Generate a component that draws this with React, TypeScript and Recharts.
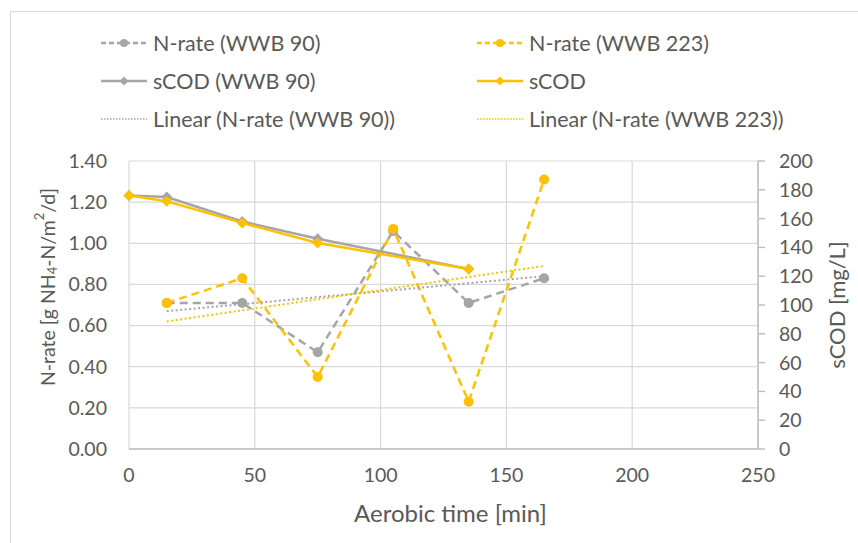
import { LineChart, Line, XAxis, YAxis, CartesianGrid, Label } from 'recharts'

// ============================================
// Colours & fonts
// ============================================

const GRAY = '#A5A5A5'
const GOLD = '#FFC000'
const TEXT = '#595959'
const GRID = '#D9D9D9'
const AXIS = '#BFBFBF'
const FONT = 'Lato, "Liberation Sans", sans-serif'

// ============================================
// Data
// ============================================

// N-rate samples [g NH4-N/m2/d] against aerobic time [min]
const nRateTimes = [15, 45, 75, 105, 135, 165]
const nRateWwb90 = [0.71, 0.71, 0.47, 1.06, 0.71, 0.83]
const nRateWwb223 = [0.71, 0.83, 0.35, 1.07, 0.23, 1.31]

// soluble COD [mg/L]
const scodTimes = [0, 15, 45, 75, 135]
const scodWwb90 = [176, 175, 158, 146, 125]
const scodWwb223 = [176, 172, 157, 143, 125]

// linear trend of the N-rate (start / end)
const trendTimes = [15, 165]
const trendWwb90 = [0.67, 0.84]
const trendWwb223 = [0.62, 0.89]

const xTicks = [0, 50, 100, 150, 200, 250]
const nRateTicks = [0, 0.2, 0.4, 0.6, 0.8, 1.0, 1.2, 1.4]
const scodTicks = [0, 20, 40, 60, 80, 100, 120, 140, 160, 180, 200]

const toPoints = (xs: number[], ys: number[]) => xs.map((x, i) => ({ x, y: ys[i] }))

// ============================================
// Markers
// ============================================

function Diamond({ cx, cy, fill, size = 5.5 }: { cx?: number; cy?: number; fill: string; size?: number }) {
  if (cx == null || cy == null) return null
  return (
    <path
      d={`M${cx},${cy - size}L${cx + size},${cy}L${cx},${cy + size}L${cx - size},${cy}Z`}
      fill={fill}
    />
  )
}

const diamondDot = (fill: string) => (p: any) => (
  <Diamond key={`d-${p.index}`} cx={p.cx} cy={p.cy} fill={fill} />
)

// ============================================
// Axis titles
// ============================================

function NRateTitle({ viewBox }: any) {
  const cx = viewBox.x + 47
  const cy = viewBox.y + viewBox.height / 2 - 18
  return (
    <text
      x={cx}
      y={cy}
      transform={`rotate(-90 ${cx} ${cy})`}
      textAnchor="middle"
      dominantBaseline="central"
      fill={TEXT}
      fontSize={19.5}
      fontFamily={FONT}
    >
      N-rate [g NH
      <tspan fontSize={13} dy={5}>4</tspan>
      <tspan dy={-5}>-N/m</tspan>
      <tspan fontSize={13} dy={-8}>2</tspan>
      <tspan dy={8}>/d]</tspan>
    </text>
  )
}

function ScodTitle({ viewBox }: any) {
  const cx = viewBox.x + 78
  const cy = viewBox.y + viewBox.height / 2
  return (
    <text
      x={cx}
      y={cy}
      transform={`rotate(-90 ${cx} ${cy})`}
      textAnchor="middle"
      dominantBaseline="central"
      fill={TEXT}
      fontSize={22}
      fontFamily={FONT}
    >
      sCOD [mg/L]
    </text>
  )
}

function TimeTitle({ viewBox }: any) {
  return (
    <text
      x={viewBox.x + viewBox.width / 2 + 7}
      y={viewBox.y + 63}
      textAnchor="middle"
      dominantBaseline="central"
      fill={TEXT}
      fontSize={24}
      fontFamily={FONT}
    >
      Aerobic time [min]
    </text>
  )
}

// ============================================
// Legend
// ============================================

interface LegendItem {
  label: string
  color: string
  dash?: string
  width: number
  marker?: 'circle' | 'diamond'
}

const legendItems: LegendItem[] = [
  { label: 'N-rate (WWB 90)', color: GRAY, dash: '5 3', width: 2.5, marker: 'circle' },
  { label: 'N-rate (WWB 223)', color: GOLD, dash: '5 3', width: 2.5, marker: 'circle' },
  { label: 'sCOD (WWB 90)', color: GRAY, width: 2.5, marker: 'diamond' },
  { label: 'sCOD', color: GOLD, width: 2.5, marker: 'diamond' },
  { label: 'Linear (N-rate (WWB 90))', color: GRAY, dash: '1.5 1.5', width: 1.5 },
  { label: 'Linear (N-rate (WWB 223))', color: GOLD, dash: '1.5 1.5', width: 1.5 },
]

function ChartLegend() {
  return (
    <div style={{ position: 'absolute', left: 100, top: 28, width: 700 }}>
      {legendItems.map((item, i) => (
        <div
          key={item.label}
          style={{
            position: 'absolute',
            left: (i % 2) * 376,
            top: Math.floor(i / 2) * 38,
            display: 'flex',
            alignItems: 'center',
            height: 30,
            whiteSpace: 'nowrap',
          }}
        >
          <svg width={48} height={14} style={{ marginRight: 5 }}>
            <line
              x1={1}
              x2={47}
              y1={7}
              y2={7}
              stroke={item.color}
              strokeWidth={item.width}
              strokeDasharray={item.dash}
            />
            {item.marker === 'circle' && <circle cx={24} cy={7} r={4} fill={item.color} />}
            {item.marker === 'diamond' && <Diamond cx={24} cy={7} fill={item.color} size={4.5} />}
          </svg>
          <span style={{ color: TEXT, fontSize: 21.5, fontFamily: FONT }}>{item.label}</span>
        </div>
      ))}
    </div>
  )
}

// ============================================
// Chart
// ============================================

export default function App() {
  return (
    <div
      style={{
        position: 'absolute',
        left: 0,
        top: 0,
        width: 858,
        height: 543,
        background: '#fff',
        overflow: 'hidden',
      }}
    >
      <div
        style={{
          position: 'absolute',
          left: 10,
          top: 11,
          width: 900,
          height: 600,
          border: `1px solid ${GRID}`,
        }}
      />
      <ChartLegend />
      <LineChart
        width={858}
        height={543}
        margin={{ top: 161, right: 0, bottom: 0, left: 0 }}
        style={{ position: 'absolute', left: 0, top: 0 }}
      >
        <CartesianGrid stroke={GRID} strokeWidth={1.2} yAxisId="nrate" />
        <XAxis
          type="number"
          dataKey="x"
          domain={[0, 250]}
          ticks={xTicks}
          height={94}
          axisLine={{ stroke: AXIS, strokeWidth: 1.5 }}
          tickLine={false}
          tickSize={0}
          tickMargin={19}
          tick={{ fill: TEXT, fontSize: 19.5, fontFamily: FONT }}
        >
          <Label content={<TimeTitle />} />
        </XAxis>
        <YAxis
          yAxisId="nrate"
          type="number"
          domain={[0, 1.4]}
          ticks={nRateTicks}
          width={129}
          axisLine={false}
          tickLine={false}
          tickSize={0}
          tickMargin={22}
          tickFormatter={(v: number) => v.toFixed(2)}
          tick={{ fill: TEXT, fontSize: 19.5, fontFamily: FONT }}
        >
          <Label content={<NRateTitle />} />
        </YAxis>
        <YAxis
          yAxisId="scod"
          orientation="right"
          type="number"
          domain={[0, 200]}
          ticks={scodTicks}
          width={100}
          axisLine={{ stroke: AXIS, strokeWidth: 1.5 }}
          tickLine={{ stroke: AXIS, strokeWidth: 1.5 }}
          tickSize={7}
          tickMargin={14}
          tick={{ fill: TEXT, fontSize: 19.5, fontFamily: FONT, textAnchor: 'start' }}
        >
          <Label content={<ScodTitle />} />
        </YAxis>

        <Line
          yAxisId="nrate"
          data={toPoints(nRateTimes, nRateWwb90)}
          dataKey="y"
          stroke={GRAY}
          strokeWidth={2.5}
          strokeDasharray="8 5"
          dot={{ r: 5, fill: GRAY, stroke: 'none' }}
          isAnimationActive={false}
        />
        <Line
          yAxisId="nrate"
          data={toPoints(nRateTimes, nRateWwb223)}
          dataKey="y"
          stroke={GOLD}
          strokeWidth={2.5}
          strokeDasharray="8 5"
          dot={{ r: 5, fill: GOLD, stroke: 'none' }}
          isAnimationActive={false}
        />
        <Line
          yAxisId="scod"
          data={toPoints(scodTimes, scodWwb90)}
          dataKey="y"
          stroke={GRAY}
          strokeWidth={2.5}
          dot={diamondDot(GRAY)}
          isAnimationActive={false}
        />
        <Line
          yAxisId="scod"
          data={toPoints(scodTimes, scodWwb223)}
          dataKey="y"
          stroke={GOLD}
          strokeWidth={2.5}
          dot={diamondDot(GOLD)}
          isAnimationActive={false}
        />
        <Line
          yAxisId="nrate"
          data={toPoints(trendTimes, trendWwb90)}
          dataKey="y"
          stroke={GRAY}
          strokeWidth={2}
          strokeDasharray="2 2.5"
          dot={false}
          isAnimationActive={false}
        />
        <Line
          yAxisId="nrate"
          data={toPoints(trendTimes, trendWwb223)}
          dataKey="y"
          stroke={GOLD}
          strokeWidth={2}
          strokeDasharray="2 2.5"
          dot={false}
          isAnimationActive={false}
        />
      </LineChart>
    </div>
  )
}
